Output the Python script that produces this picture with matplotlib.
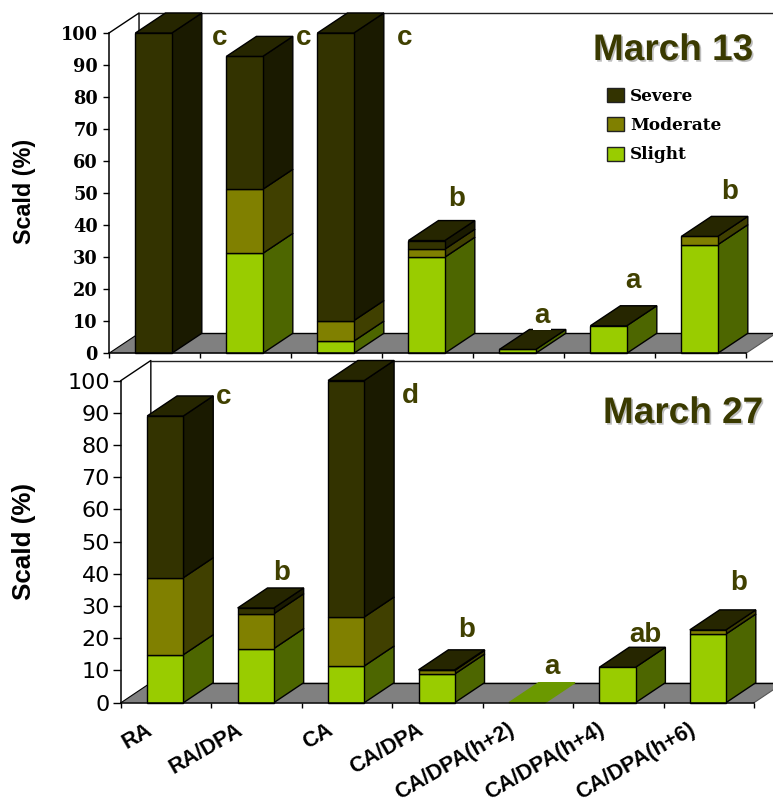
import matplotlib
matplotlib.use("Agg")
import matplotlib.pyplot as plt
import matplotlib.patheffects as pe
from matplotlib.patches import Patch, Polygon

W, H = 773, 806

treatments = ["RA", "RA/DPA", "CA", "CA/DPA", "CA/DPA(h+2)", "CA/DPA(h+4)", "CA/DPA(h+6)"]
y_ticks = [0, 10, 20, 30, 40, 50, 60, 70, 80, 90, 100]

slight_13 = [0, 31.2, 3.8, 30, 1.2, 8.6, 33.9]
moderate_13 = [0, 20, 6.4, 2.5, 0, 0, 2.6]
severe_13 = [100, 41.5, 89.8, 2.7, 0, 0, 0]
letters_13 = ["c", "c", "c", "b", "a", "a", "b"]

slight_27 = [14.9, 16.8, 11.4, 8.9, 0, 11, 21.3]
moderate_27 = [23.9, 10.8, 15.2, 1.1, 0, 0, 1.3]
severe_27 = [50.2, 1.8, 73.4, 0.2, 0, 0, 0]
letters_27 = ["c", "b", "d", "b", "a", "ab", "b"]

# front colour, side colour
colors = {"Slight": ("#99cc00", "#4d6600"), "Moderate": ("#808000", "#404000"), "Severe": ("#333300", "#1a1a00")}
top_dark = "#262600"
top_flat = "#6b9900"
floor_color = "#808080"
letter_color = "#404000"
title_color = "#3a3a00"

DX, DY_PX = 0.33, 20
BAR_L, BAR_W = 0.29, 0.40


def make_axes(fig, x0, x1, y_top, y_bottom):
    return fig.add_axes([x0 / W, 1 - y_bottom / H, (x1 - x0) / W, (y_bottom - y_top) / H])


def px_text(fig, x, y, s, **kw):
    return fig.text(x / W, 1 - y / H, s, **kw)


def draw_panel(ax, slight, moderate, severe, dy):
    ax.set_xlim(0, 7)
    ax.set_ylim(0, 100)
    ax.patch.set_visible(False)

    # back wall and floor
    far = 7 + DX + 1
    ax.plot([0, DX, DX], [100, 100 + dy, dy], color="black", lw=1.0, clip_on=False, zorder=0.5)
    ax.plot([DX, far], [100 + dy, 100 + dy], color="#222222", lw=1.0, clip_on=False, zorder=0.5)
    ax.add_patch(Polygon([(0, 0), (DX, dy), (7 + DX, dy), (7, 0)], facecolor=floor_color,
                         edgecolor="none", clip_on=False, zorder=0.6))
    ax.plot([DX, far], [dy, dy], color="black", lw=1.0, clip_on=False, zorder=0.7)
    ax.plot([0, DX], [0, dy], color="black", lw=0.8, clip_on=False, zorder=0.7)
    ax.plot([7, 7 + DX], [0, dy], color="#555555", lw=0.8, clip_on=False, zorder=0.7)

    for i in range(len(treatments)):
        left = i + BAR_L
        right = left + BAR_W
        base = 0
        for name, vals in (("Slight", slight), ("Moderate", moderate), ("Severe", severe)):
            v = vals[i]
            if v <= 0:
                continue
            front, side = colors[name]
            ax.add_patch(Polygon([(right, base), (right + DX, base + dy), (right + DX, base + v + dy), (right, base + v)],
                                 facecolor=side, edgecolor="black", lw=1.0, clip_on=False))
            ax.bar(left, v, BAR_W, bottom=base, align="edge", color=front, edgecolor="black", lw=1.0, clip_on=False)
            base += v
        top = top_dark if base > 0 else top_flat
        ax.add_patch(Polygon([(left, base), (left + DX, base + dy), (right + DX, base + dy), (right, base)],
                             facecolor=top, edgecolor="black" if base > 0 else top, lw=1.0, clip_on=False))

    for s in ("top", "right"):
        ax.spines[s].set_visible(False)
    for s in ("left", "bottom"):
        ax.spines[s].set_linewidth(1.1)
    ax.set_yticks(y_ticks)
    ax.set_xticks(range(8))
    ax.set_xticklabels([])


fig = plt.figure(figsize=(W / 100, H / 100), dpi=100, facecolor="white")

# March 13
ax1 = make_axes(fig, 109, 746, 33, 353.3)
draw_panel(ax1, slight_13, moderate_13, severe_13, DY_PX / 3.203)
ax1.tick_params(axis="y", length=4, width=1, pad=4)
ax1.tick_params(axis="x", length=3.6, width=1)
for t in ax1.get_yticklabels():
    t.set_fontfamily("DejaVu Serif")
    t.set_fontweight("bold")
    t.set_fontsize(12.8)

handles = [Patch(facecolor=colors[n][0], edgecolor="#222222", lw=1.0) for n in ("Severe", "Moderate", "Slight")]
ax1.legend(handles, ["Severe", "Moderate", "Slight"], loc="upper left", bbox_to_anchor=((607 - 109) / 637, (353.3 - 88) / 320.3),
           frameon=False, handlelength=1.0, handleheight=0.9, handletextpad=0.35, labelspacing=0.72, borderpad=0, borderaxespad=0,
           prop={"family": "DejaVu Serif", "weight": "bold", "size": 12.2})

# March 27
ax2 = make_axes(fig, 121, 754, 380.5, 702.7)
draw_panel(ax2, slight_27, moderate_27, severe_27, DY_PX / 3.222)
ax2.tick_params(axis="y", length=5.5, width=1, pad=2.5, labelsize=16)
ax2.tick_params(axis="x", length=3.6, width=1)
ax2.set_xticks([i + 0.27 for i in range(7)], minor=True)
ax2.set_xticklabels(treatments, minor=True, rotation=30, ha="right", rotation_mode="anchor",
                    fontfamily="Liberation Sans", fontweight="bold", fontsize=15.6)
ax2.tick_params(axis="x", which="minor", length=0, pad=12)

# axis titles
px_text(fig, 24, 191, "Scald (%)", rotation=90, ha="center", va="center", family="Liberation Sans", weight="bold", size=16.8)
px_text(fig, 24, 541, "Scald (%)", rotation=90, ha="center", va="center", family="Liberation Sans", weight="bold", size=18.7)

# panel titles
shadow = [pe.withSimplePatchShadow(offset=(1.2, -1.2), shadow_rgbFace="#bdbdbd", alpha=1.0)]
px_text(fig, 673, 60, "March 13", ha="center", va="baseline", family="Liberation Sans", weight="bold", size=26.6,
        color=title_color, path_effects=shadow)
px_text(fig, 683, 423, "March 27", ha="center", va="baseline", family="Liberation Sans", weight="bold", size=26.6,
        color=title_color, path_effects=shadow)

# significance letters
x_13 = [219.5, 304, 405, 456.7, 542, 633, 730]
y_13 = [45, 45, 45, 206, 323, 288, 199]
x_27 = [224, 281.3, 410, 466.7, 551.7, 645.7, 739]
y_27 = [404, 580, 403, 637, 674, 642, 590]
for xs, ys, labs in ((x_13, y_13, letters_13), (x_27, y_27, letters_27)):
    for x, y, lab in zip(xs, ys, labs):
        kw = {}
        if lab == "a":
            kw["bbox"] = dict(facecolor="white", edgecolor="none", pad=0.5)
        px_text(fig, x, y, lab, ha="center", va="baseline", family="Liberation Sans", weight="bold", size=20,
                color=letter_color, zorder=5, **kw)

fig.savefig("out.png", dpi=100)
